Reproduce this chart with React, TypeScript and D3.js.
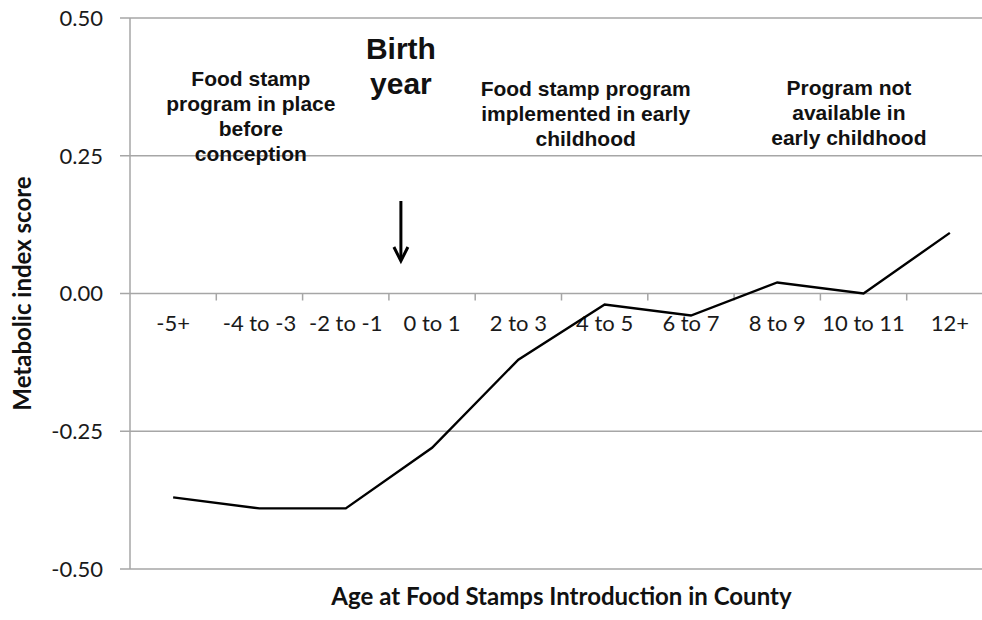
import React from "react";
import * as d3 from "d3";

const categories = ["-5+", "-4 to -3", "-2 to -1", "0 to 1", "2 to 3", "4 to 5", "6 to 7", "8 to 9", "10 to 11", "12+"];
const values = [-0.37, -0.39, -0.39, -0.28, -0.12, -0.02, -0.04, 0.02, 0.0, 0.11];
const yTicks = [-0.5, -0.25, 0, 0.25, 0.5];

const annotations = [
  { cat: "-4 to -3", frac: -0.1, lines: ["Food stamp", "program in place", "before", "conception"], y0: 79 },
  { cat: "4 to 5", frac: -0.22, lines: ["Food stamp program", "implemented in early", "childhood"], y0: 89 },
  { cat: "8 to 9", frac: 0.83, lines: ["Program not", "available in", "early childhood"], y0: 88 },
];

const W = 982, H = 620;
const M = { left: 130, top: 18, right: 993, bottom: 569 };

export default function App() {
  const x = d3.scaleBand<string>().domain(categories).range([M.left, M.right]).padding(0);
  const y = d3.scaleLinear().domain([-0.5, 0.5]).range([M.bottom, M.top]);
  const cx = (c: string) => (x(c) as number) + x.bandwidth() / 2;
  const line = d3.line<number>().x((_, i) => cx(categories[i])).y((d) => y(d));
  const tickFont = "Lato, 'Open Sans', sans-serif";
  const annFont = "'Liberation Sans', Arial, sans-serif";
  const grid = "#a6a6a6";
  const birthX = (x("0 to 1") as number) + 12;

  return (
    <svg width={W} height={H} style={{ position: "absolute", left: 0, top: 0, background: "#fff" }}>
      <rect x={0} y={0} width={W} height={H} fill="#fff" />
      {yTicks.map((t) => (
        <g key={t}>
          <line x1={M.left - 10} x2={M.right} y1={y(t)} y2={y(t)} stroke={grid} strokeWidth={1.5} />
          <text x={103} y={y(t)} dy="0.36em" textAnchor="end" fontFamily={tickFont} fontSize={22} fill="#1a1a1a">
            {t.toFixed(2)}
          </text>
        </g>
      ))}
      <line x1={M.left} x2={M.left} y1={M.top} y2={M.bottom} stroke={grid} strokeWidth={1.5} />
      {categories.slice(1).map((c) => (
        <line key={c} x1={x(c) as number} x2={x(c) as number} y1={y(0)} y2={y(0) + 7} stroke={grid} strokeWidth={1.5} />
      ))}
      {categories.map((c) => (
        <text key={c} x={cx(c)} y={331} textAnchor="middle" fontFamily={tickFont} fontSize={22} fill="#1a1a1a">
          {c}
        </text>
      ))}
      <path d={line(values) || ""} fill="none" stroke="#000" strokeWidth={2.4} strokeLinejoin="miter" />
      {annotations.map((a, k) => {
        const ax = cx(a.cat) + a.frac * x.bandwidth();
        return (
          <text key={k} textAnchor="middle" fontFamily={annFont} fontWeight="bold" fontSize={21} fill="#111">
            {a.lines.map((l, i) => (
              <tspan key={i} x={ax} y={a.y0 + i * 25} dy="0.35em">
                {l}
              </tspan>
            ))}
          </text>
        );
      })}
      <text textAnchor="middle" fontFamily={annFont} fontWeight="bold" fontSize={30} fill="#111">
        <tspan x={birthX} y={59}>Birth</tspan>
        <tspan x={birthX} y={94}>year</tspan>
      </text>
      <line x1={birthX} x2={birthX} y1={201} y2={260} stroke="#000" strokeWidth={3} />
      <path d={`M${birthX - 7},${247} L${birthX},${261} L${birthX + 7},${247}`} fill="none" stroke="#000" strokeWidth={3} />
      <text
        transform={`translate(23,${(M.top + M.bottom) / 2}) rotate(-90)`}
        textAnchor="middle"
        dy="0.35em"
        fontFamily={tickFont}
        fontWeight="bold"
        fontSize={24}
        fill="#111"
      >
        Metabolic index score
      </text>
      <text x={(M.left + M.right) / 2} y={605} textAnchor="middle" fontFamily={tickFont} fontWeight="bold" fontSize={24} fill="#111">
        Age at Food Stamps Introduction in County
      </text>
    </svg>
  );
}
